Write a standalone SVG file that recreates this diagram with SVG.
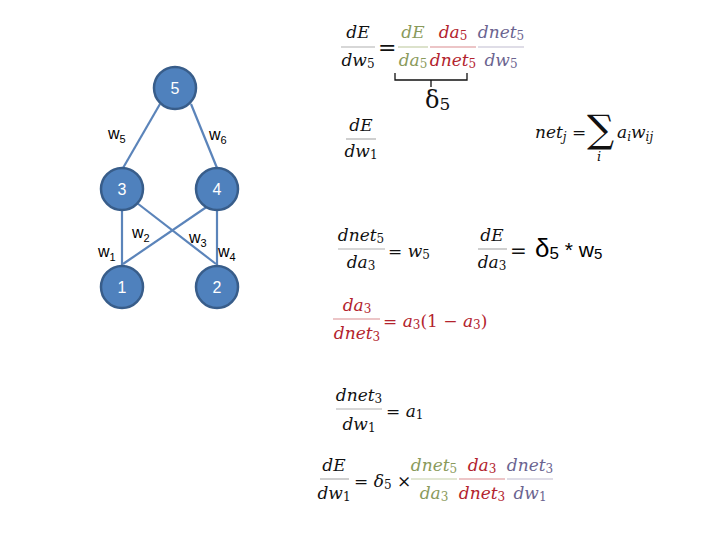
<svg xmlns="http://www.w3.org/2000/svg" width="720" height="540" viewBox="0 0 720 540">
<style>
.node{fill:#4F81BD;stroke:#385D8A;stroke-width:2.5}
.nl{font-family:"Liberation Sans",Arial,sans-serif;font-size:16px;fill:#ffffff;text-anchor:middle}
.wl{font-family:"Liberation Sans",Arial,sans-serif;font-size:16px;fill:#000}
.ws{font-size:11px}
.edge{stroke:#5B84BA;stroke-width:2.2;fill:none}
.m{font-family:"DejaVu Serif","Liberation Serif",serif;font-style:italic;font-size:17px;fill:#111;text-anchor:middle}
.ml{font-family:"DejaVu Serif","Liberation Serif",serif;font-style:italic;font-size:17px;fill:#111}
.s{font-style:normal;font-size:12px}
.up{font-style:normal}
.bar{stroke:#b0b0b0;stroke-width:1.2}
.g{fill:#8A9A5B}
.r{fill:#B3232D}
.p{fill:#6B6490}
.gb{stroke:#c5cfa8;stroke-width:1.2}
.rb{stroke:#d98c90;stroke-width:1.2}
.pb{stroke:#c0bccf;stroke-width:1.2}
</style>
<rect width="720" height="540" fill="#ffffff"/>
<g id="connectors">
<line class="edge" x1="160" y1="104" x2="123" y2="168"/>
<line class="edge" x1="191" y1="104" x2="217" y2="168"/>
<line class="edge" x1="122" y1="211" x2="122" y2="265"/>
<line class="edge" x1="217" y1="211" x2="217" y2="265"/>
<line class="edge" x1="123" y1="264" x2="208" y2="206"/>
<line class="edge" x1="137" y1="203" x2="216" y2="264"/>
</g>
<g id="node5"><circle class="node" cx="175" cy="88" r="21"/><text class="nl" x="175" y="94">5</text></g>
<g id="node3"><circle class="node" cx="122" cy="189" r="21"/><text class="nl" x="122" y="195">3</text></g>
<g id="node4"><circle class="node" cx="217" cy="189" r="21"/><text class="nl" x="217" y="195">4</text></g>
<g id="node1"><circle class="node" cx="122" cy="287" r="21"/><text class="nl" x="122" y="293">1</text></g>
<g id="node2"><circle class="node" cx="217" cy="287" r="21"/><text class="nl" x="217" y="293">2</text></g>
<g id="weights">
<text class="wl" x="108" y="139">w<tspan class="ws" dy="4">5</tspan></text>
<text class="wl" x="209" y="140">w<tspan class="ws" dy="4">6</tspan></text>
<text class="wl" x="98" y="257">w<tspan class="ws" dy="4">1</tspan></text>
<text class="wl" x="132" y="238">w<tspan class="ws" dy="4">2</tspan></text>
<text class="wl" x="189" y="243">w<tspan class="ws" dy="4">3</tspan></text>
<text class="wl" x="218" y="257">w<tspan class="ws" dy="4">4</tspan></text>
</g>
<g id="eq1">
<text class="m" x="358" y="38">dE</text>
<line class="bar" x1="341" y1="47" x2="375" y2="47"/>
<text class="m" x="358" y="66">dw<tspan class="s" dy="2">5</tspan></text>
<text class="ml up" x="378" y="55" style="font-size:22px">=</text>
<text class="m g" x="413" y="38">dE</text>
<line class="gb" x1="398" y1="47" x2="428" y2="47"/>
<text class="m g" x="413" y="66">da<tspan class="s" dy="2">5</tspan></text>
<text class="m r" x="453" y="38">da<tspan class="s" dy="2">5</tspan></text>
<line class="rb" x1="430" y1="47" x2="476" y2="47"/>
<text class="m r" x="453" y="66">dnet<tspan class="s" dy="2">5</tspan></text>
<text class="m p" x="501" y="38">dnet<tspan class="s" dy="2">5</tspan></text>
<line class="pb" x1="478" y1="47" x2="524" y2="47"/>
<text class="m p" x="501" y="66">dw<tspan class="s" dy="2">5</tspan></text>
<path d="M395,73 V80 H467 V73 M431,80 V87" fill="none" stroke="#111" stroke-width="1.3"/>
<text class="ml up" x="425" y="108" style="font-size:24px">δ<tspan style="font-size:17px" dy="2">5</tspan></text>
</g>
<g id="eq2">
<text class="m" x="361" y="131">dE</text>
<line class="bar" x1="346" y1="139" x2="376" y2="139"/>
<text class="m" x="361" y="157">dw<tspan class="s" dy="2">1</tspan></text>
</g>
<g id="eq_net">
<text class="ml" x="535" y="138">net<tspan class="s" dy="3" style="font-style:italic">j</tspan><tspan class="up" dy="-3"> =</tspan></text>
<text class="ml up" x="587" y="142" style="font-size:38px">∑</text>
<text class="ml" x="597" y="161" style="font-size:13px">i</text>
<text class="ml" x="617" y="138">a<tspan class="s" dy="3" style="font-style:italic">i</tspan><tspan dy="-3">w</tspan><tspan class="s" dy="3" style="font-style:italic">ij</tspan></text>
</g>
<g id="eq3">
<text class="m" x="361" y="241">dnet<tspan class="s" dy="2">5</tspan></text>
<line class="bar" x1="338" y1="249" x2="385" y2="249"/>
<text class="m" x="361" y="268">da<tspan class="s" dy="2">3</tspan></text>
<text class="ml" x="388" y="257"><tspan class="up">= </tspan>w<tspan class="s" dy="2">5</tspan></text>
</g>
<g id="eq4">
<text class="m" x="492" y="241">dE</text>
<line class="bar" x1="478" y1="249" x2="507" y2="249"/>
<text class="m" x="492" y="268">da<tspan class="s" dy="2">3</tspan></text>
<text class="ml up" x="510" y="258" style="font-size:20px">=</text>
<text class="wl" x="535" y="257" style="font-size:26px">δ<tspan style="font-size:17px" dy="2">5</tspan><tspan dy="-2" style="font-size:21px"> * w</tspan><tspan style="font-size:15px" dy="2">5</tspan></text>
</g>
<g id="eq5">
<text class="m r" x="357" y="311">da<tspan class="s" dy="2">3</tspan></text>
<line class="rb" x1="333" y1="319" x2="380" y2="319"/>
<text class="m r" x="357" y="339">dnet<tspan class="s" dy="2">3</tspan></text>
<text class="ml r" x="383" y="327"><tspan class="up">= </tspan>a<tspan class="s" dy="2">3</tspan><tspan class="up" dy="-2">(1 − </tspan>a<tspan class="s" dy="2">3</tspan><tspan class="up" dy="-2">)</tspan></text>
</g>
<g id="eq6">
<text class="m" x="359" y="401">dnet<tspan class="s" dy="2">3</tspan></text>
<line class="bar" x1="336" y1="409" x2="382" y2="409"/>
<text class="m" x="359" y="430">dw<tspan class="s" dy="2">1</tspan></text>
<text class="ml" x="386" y="417"><tspan class="up">= </tspan>a<tspan class="s" dy="2">1</tspan></text>
</g>
<g id="eq7">
<text class="m" x="334" y="471">dE</text>
<line class="bar" x1="320" y1="479" x2="349" y2="479"/>
<text class="m" x="334" y="499">dw<tspan class="s" dy="2">1</tspan></text>
<text class="ml" x="354" y="487"><tspan class="up">= </tspan>δ<tspan class="s" dy="2">5</tspan><tspan class="up" dy="-2"> ×</tspan></text>
<text class="m g" x="434" y="471">dnet<tspan class="s" dy="2">5</tspan></text>
<line class="gb" x1="411" y1="479" x2="457" y2="479"/>
<text class="m g" x="434" y="499">da<tspan class="s" dy="2">3</tspan></text>
<text class="m r" x="482" y="471">da<tspan class="s" dy="2">3</tspan></text>
<line class="rb" x1="459" y1="479" x2="505" y2="479"/>
<text class="m r" x="482" y="499">dnet<tspan class="s" dy="2">3</tspan></text>
<text class="m p" x="530" y="471">dnet<tspan class="s" dy="2">3</tspan></text>
<line class="pb" x1="507" y1="479" x2="553" y2="479"/>
<text class="m p" x="530" y="499">dw<tspan class="s" dy="2">1</tspan></text>
</g>
</svg>
